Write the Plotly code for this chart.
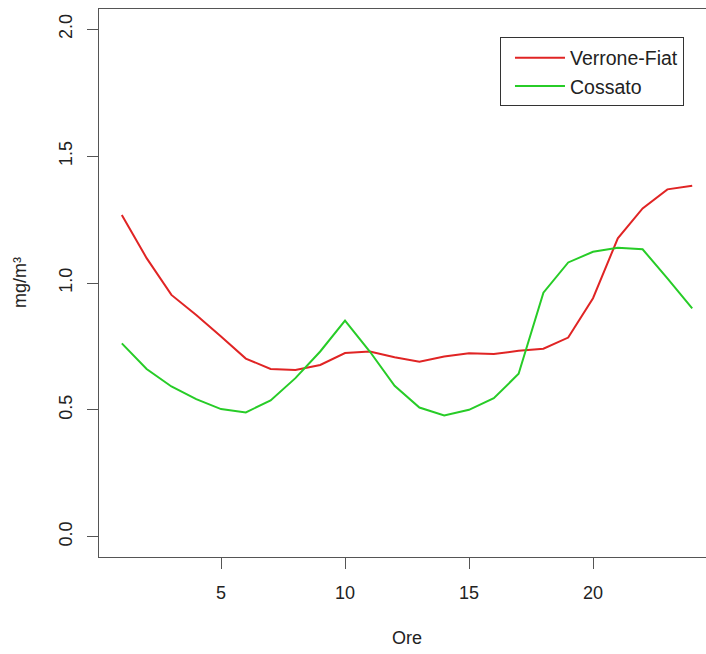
import plotly.graph_objects as go

# Hourly mean concentrations (mg/m³) at two monitoring stations
ore = list(range(1, 25))
verrone_fiat = [1.268, 1.098, 0.953, 0.874, 0.789, 0.702, 0.661, 0.657, 0.677, 0.724,
                0.730, 0.707, 0.690, 0.710, 0.723, 0.720, 0.733, 0.741, 0.785, 0.940,
                1.176, 1.294, 1.369, 1.383]
cossato = [0.762, 0.661, 0.592, 0.542, 0.503, 0.490, 0.537, 0.625, 0.730, 0.852,
           0.730, 0.595, 0.509, 0.478, 0.500, 0.546, 0.642, 0.962, 1.081, 1.123,
           1.139, 1.133, 1.018, 0.900]
x_ticks = [5, 10, 15, 20]
y_ticks = [0.0, 0.5, 1.0, 1.5, 2.0]

FONT = "Liberation Sans, Arial, Helvetica, sans-serif"
AXIS = "#555555"

fig = go.Figure()
fig.add_trace(go.Scatter(x=ore, y=verrone_fiat, mode="lines", name="Verrone-Fiat",
                         line=dict(color="#e02424", width=2)))
fig.add_trace(go.Scatter(x=ore, y=cossato, mode="lines", name="Cossato",
                         line=dict(color="#27cc27", width=2)))

fig.update_layout(
    width=706, height=654,
    margin=dict(l=99, r=0, t=9, b=97, pad=0),
    paper_bgcolor="white", plot_bgcolor="white",
    font=dict(family=FONT, size=18, color="#222222"),
    showlegend=True,
    legend=dict(
        x=0.6606, y=0.948, xanchor="left", yanchor="top",
        bgcolor="white", bordercolor="#333333", borderwidth=1,
        font=dict(size=19.5, family=FONT, color="#222222"),
        tracegroupgap=0, itemwidth=50, indentation=9,
    ),
    xaxis=dict(
        range=[0.08, 24.556], tickvals=x_ticks, ticks="outside", ticklen=11,
        tickcolor=AXIS, showline=True, linecolor=AXIS, linewidth=1, mirror=True,
        showgrid=False, zeroline=False, automargin=False,
        ticklabelstandoff=8,
    ),
    yaxis=dict(
        range=[-0.08, 2.08], tickvals=y_ticks, tickformat=".1f", tickangle=-90,
        ticks="outside", ticklen=11, tickcolor=AXIS, showline=True, linecolor=AXIS,
        linewidth=1, showgrid=False, zeroline=False, automargin=False,
        ticklabelstandoff=8,
    ),
    annotations=[
        dict(text="Ore", xref="paper", yref="paper", x=(407 - 99) / 607, y=0,
             yshift=-(638 - 557), xanchor="center", yanchor="middle",
             showarrow=False, font=dict(size=18)),
        dict(text="mg/m³", xref="paper", yref="paper", x=0, y=0.5,
             xshift=-(99 - 20), xanchor="center", yanchor="middle", textangle=-90,
             showarrow=False, font=dict(size=18)),
    ],
)

fig.write_html("out.html")
